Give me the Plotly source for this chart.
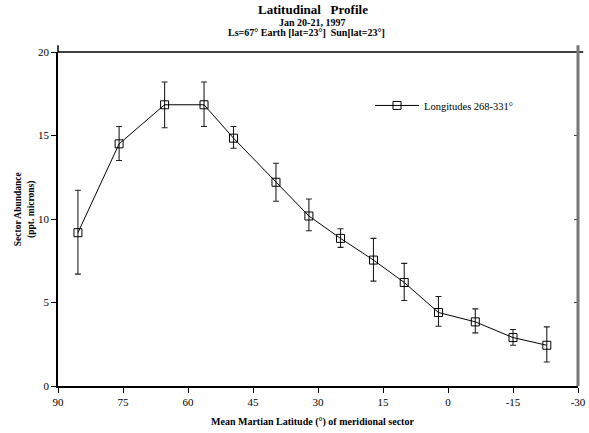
import plotly.graph_objects as go

latitude = [85.4, 75.9, 65.4, 56.3, 49.5, 39.7, 32.1, 24.8, 17.2, 10.1, 2.2, -6.3, -15.0, -22.8]
abundance = [9.18, 14.5, 16.84, 16.84, 14.84, 12.2, 10.18, 8.84, 7.54, 6.2, 4.4, 3.84, 2.9, 2.44]
err_up = [2.54, 1.04, 1.36, 1.36, 0.7, 1.14, 1.02, 0.58, 1.3, 1.14, 0.96, 0.78, 0.48, 1.1]
err_down = [2.48, 1.0, 1.38, 1.3, 0.6, 1.14, 0.88, 0.54, 1.26, 1.08, 0.82, 0.66, 0.46, 1.0]
x_ticks = [90, 75, 60, 45, 30, 15, 0, -15, -30]
y_ticks = [0, 5, 10, 15, 20]
series_name = "Longitudes 268-331°"

FONT = "Liberation Serif"

fig = go.Figure()
fig.add_trace(go.Scatter(
    x=latitude, y=abundance, mode="lines+markers", name=series_name,
    line=dict(color="black", width=1),
    marker=dict(symbol="square-open", size=8, color="black", line=dict(width=1)),
    error_y=dict(type="data", array=err_up, arrayminus=err_down, symmetric=False,
                 color="#222", thickness=1.1, width=3),
    cliponaxis=False,
))
# invisible companion trace to draw the right-hand (inward tick) axis
fig.add_trace(go.Scatter(x=latitude, y=abundance, mode="none", yaxis="y2",
                         showlegend=False, hoverinfo="skip"))

fig.update_layout(
    width=589, height=433,
    margin=dict(l=58, r=11, t=52, b=47),
    paper_bgcolor="white", plot_bgcolor="white",
    font=dict(family=FONT, size=11, color="black"),
    showlegend=True,
    legend=dict(x=0.6, y=0.84, xanchor="left", yanchor="middle",
                bgcolor="rgba(0,0,0,0)", itemwidth=44,
                font=dict(family=FONT, size=10.5, color="black")),
    xaxis=dict(range=[90, -30], tickvals=x_ticks, ticktext=[str(v) for v in x_ticks],
               showgrid=False, zeroline=False, showline=True, linecolor="black", linewidth=1.5,
               ticks="outside", ticklen=5, tickcolor="black", tickwidth=1, automargin=False,
               tickfont=dict(family=FONT, size=11)),
    yaxis=dict(range=[0, 20], tickvals=y_ticks, showgrid=False, zeroline=False,
               showline=True, linecolor="black", linewidth=1.5, automargin=False,
               ticks="outside", ticklen=5, tickcolor="black", tickwidth=1,
               tickfont=dict(family=FONT, size=11)),
    yaxis2=dict(range=[0, 20], overlaying="y", side="right", tickvals=[5, 10, 15],
                showticklabels=False, showgrid=False, zeroline=False, showline=False,
                ticks="inside", ticklen=4, tickcolor="#444", tickwidth=1, automargin=False),
)

# frame: top black line and gray right line (extending slightly past the corners)
fig.add_shape(type="line", xref="paper", yref="paper", x0=0, x1=1.01, y0=1, y1=1,
              line=dict(color="black", width=1.5))
fig.add_shape(type="line", xref="paper", yref="paper", x0=1, x1=1, y0=0, y1=1.02,
              line=dict(color="#777", width=3))
fig.add_shape(type="line", xref="paper", yref="paper", x0=0, x1=0, y0=1, y1=1.02,
              line=dict(color="black", width=1.5))

# titles
def note(text, x, y, size, angle=0):
    fig.add_annotation(text=text, xref="paper", yref="paper", x=x, y=y,
                       xanchor="center", yanchor="middle", textangle=angle,
                       showarrow=False, font=dict(family=FONT, size=size, color="black"))

note("<b>Latitudinal   Profile</b>", 0.49, 1.1285, 13)
note("<b>Jan 20-21, 1997</b>", 0.488, 1.0885, 10)
note("<b>Ls=67° Earth [lat=23°]  Sun[lat=23°]</b>", 0.478, 1.057, 10)
note("<b>Sector Abundance<br>(ppt. microns)</b>", -0.063, 0.53, 9.5, angle=-90)
note("<b>Mean Martian Latitude (°) of meridional sector</b>", 0.49, -0.108, 10)

fig.write_html("out.html", config={"displayModeBar": False},
               post_script="document.body.style.margin='0';")
